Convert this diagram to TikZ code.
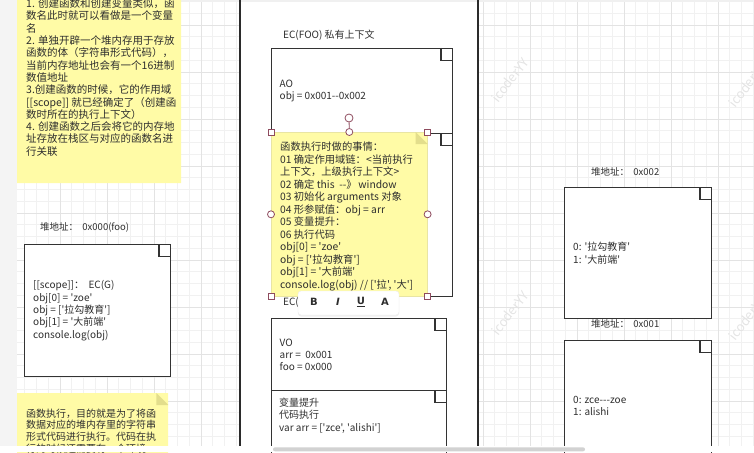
\documentclass[tikz,border=0pt]{standalone}
\usepackage{fontspec}
\newfontfamily\cjk{Noto Sans CJK SC}
\newfontfamily\botones{DejaVu Sans}
\usetikzlibrary{shapes.misc, shadows}

\definecolor{borde}{HTML}{333333}
\definecolor{panel}{HTML}{2B2B2B}
\definecolor{amarillo}{HTML}{FFFBA6}
\definecolor{amarilloosc}{HTML}{E3DE8C}
\definecolor{asa}{HTML}{8E4B5E}
\definecolor{menor}{HTML}{F1F1F1}
\definecolor{mayor}{HTML}{E3E3E3}
\definecolor{marca}{HTML}{E4E4E4}
\definecolor{tinta}{HTML}{2E2E2E}

\newcommand\texto{\cjk\fontsize{10pt}{12.3pt}\selectfont}
\newcommand\textonota{\cjk\fontsize{10.5pt}{12.3pt}\selectfont}
\newcommand\textofoco{\cjk\fontsize{10.3pt}{12.5pt}\selectfont}
\newcommand\textodir{\cjk\fontsize{9.5pt}{12pt}\selectfont}

\begin{document}
\begin{tikzpicture}[x=1pt, y=-1pt,
		every node/.style={font=\texto, text=tinta, inner sep=0pt},
		hoja/.style={chamfered rectangle, chamfered rectangle corners=north east,
			chamfered rectangle xsep=12.5pt, chamfered rectangle ysep=12.5pt,
			draw=borde, line width=1.4pt, fill=white, anchor=north west,
			append after command={([xshift=-12.5pt]\tikzlastnode.north -| \tikzlastnode.east)
				edge[doblez] ([yshift=-12.5pt]\tikzlastnode.north -| \tikzlastnode.east)}},
		doblez/.style={draw=borde, line width=1.4pt, to path={|- (\tikztotarget)}},
		nota/.style={chamfered rectangle, chamfered rectangle corners=north east,
			chamfered rectangle xsep=12pt, chamfered rectangle ysep=12pt,
			fill=amarillo, anchor=north west,
			append after command={([xshift=-12pt]\tikzlastnode.north -| \tikzlastnode.east)
				edge[pliegue] ([yshift=-12pt]\tikzlastnode.north -| \tikzlastnode.east)}},
		pliegue/.style={draw=none, fill=amarilloosc, to path={|- (\tikztotarget) -- cycle}},
		asacuad/.style={rectangle, draw=asa, fill=white, line width=0.8pt, minimum size=6pt},
		asacirc/.style={circle, draw=asa, fill=white, line width=0.8pt, minimum size=7pt},
		barra/.style={rounded corners=3pt, fill=white, draw=gray!15, minimum width=101pt, minimum height=24pt,
			drop shadow={shadow xshift=0pt, shadow yshift=-1.5pt, opacity=0.12}},
		boton/.style={font=\botones\bfseries\fontsize{10pt}{12pt}\selectfont},
		marcaagua/.style={text=marca, font=\cjk\fontsize{13pt}{14pt}\selectfont, rotate=52}
		]
		\clip (0,0) rectangle (754,452);
		
		% ---- FONDO ----
		\foreach \i in {0,...,64} \draw[menor, line width=0.6pt] ({1.25+11.75*\i},0) -- ({1.25+11.75*\i},446);
		\foreach \j in {0,...,38} \draw[menor, line width=0.6pt] (17,{1.5+11.75*\j}) -- (754,{1.5+11.75*\j});
		\foreach \k in {0,...,15} \draw[mayor, line width=0.7pt] ({13+47*\k},0) -- ({13+47*\k},446);
		\foreach \k in {0,...,9} \draw[mayor, line width=0.7pt] (17,{25+47*\k}) -- (754,{25+47*\k});
		\fill[gray!9] (0,0) rectangle (17,446);
		\fill[white] (240,0) rectangle (478,446);
		\fill[gray!12] (17,0) rectangle (754,2.5);
		\draw[panel, line width=2pt] (240,0) -- (240,446);
		\draw[panel, line width=2pt] (478,0) -- (478,446);
		
		\node[marcaagua] (wm1) at (510,80) {icoderYY};
		\node[marcaagua] (wm2) at (747,85) {icoderYY};
		\node[marcaagua] (wm3) at (510,313) {icoderYY};
		\node[marcaagua] (wm4) at (747,318) {icoderYY};
		
		% ---- NOTAS ----
		\node[nota, minimum width=164pt, minimum height=195pt] (notaA) at (17,-12) {};
		\node[anchor=north west, align=left, font=\textonota] (notaAtxt) at (26,-1.5)
			{1. 创建函数和创建变量类似，函\\数名此时就可以看做是一个变量\\名\\2. 单独开辟一个堆内存用于存放\\函数的体（字符串形式代码），\\当前内存地址也会有一个16进制\\数值地址\\3.创建函数的时候，它的作用域\\{}[[scope]] 就已经确定了（创建函\\数时所在的执行上下文）\\4. 创建函数之后会将它的内存地\\址存放在栈区与对应的函数名进\\行关联};
		
		\node[nota, minimum width=151pt, minimum height=80pt] (notaB) at (17,393) {};
		\node[anchor=north west, align=left, font=\cjk\fontsize{10pt}{11.7pt}\selectfont] (notaBtxt) at (26,408.5)
			{函数执行，目的就是为了将函\\数据对应的堆内存里的字符串\\形式代码进行执行。代码在执\\行的时候还需要有一个环境};
		
		% ---- HEAP 0x000 ----
		\node[anchor=west, font=\textodir] (dir0) at (40,227) {堆地址：\ \ 0x000(foo)};
		\node[hoja, minimum width=146pt, minimum height=132pt] (heap0) at (24,244) {};
		\node[anchor=west, align=left] (heap0txt) at ([xshift=9pt]heap0.west)
			{[[scope]]：\ \ EC(G)\\obj[0] = 'zoe'\\obj = ['拉勾教育']\\obj[1] = '大前端'\\console.log(obj)};
		
		% ---- EC(FOO) ----
		\node[anchor=west] (ecfoo) at (283,35) {EC(FOO) 私有上下文};
		\node[hoja, minimum width=181pt, minimum height=85pt] (ao) at (271,48) {};
		\node[anchor=west, align=left] (aotxt) at ([xshift=8.5pt]ao.west) {AO\\obj = 0x001--0x002};
		\node[hoja, minimum width=181pt, minimum height=163pt] (oculta) at (271,133) {};
		
		\node[nota, draw=amarilloosc!80, line width=0.6pt, minimum width=156pt, minimum height=164pt] (foco) at (271,132) {};
		\node[anchor=west, align=left, font=\textofoco] (focotxt) at ([xshift=9pt, yshift=-2pt]foco.west)
			{函数执行时做的事情：\\01 确定作用域链：<当前执行\\上下文，上级执行上下文>\\02 确定 this\ \ --》\,window\\03 初始化 arguments 对象\\04 形参赋值：obj = arr\\05 变量提升：\\06 执行代码\\obj[0] = 'zoe'\\obj = ['拉勾教育']\\obj[1] = '大前端'\\console.log(obj) // ['拉', '大']};
		
		% ---- SELECCION ----
		\node[asacuad] (hNO) at (foco.north west) {};
		\node[asacirc] (hN) at (foco.north) {};
		\node[asacuad] (hNE) at (foco.north -| foco.east) {};
		\node[asacirc] (hO) at (foco.west) {};
		\node[asacirc] (hE) at (foco.east) {};
		\node[asacuad] (hSO) at (foco.south west) {};
		\node[asacirc] (hS) at (foco.south) {};
		\node[asacuad] (hSE) at (foco.south east) {};
		\node[asacirc, minimum size=8pt] (hGiro) at (349,118) {};
		\path [draw=asa, line width=0.8pt] (hGiro) -- (hN);
		
		% ---- EC(G) ----
		\node[anchor=west] (ecg) at (283,302) {EC(G)};
		\node[barra] (barra) at (348.5,303) {};
		\node[boton] (bN) at (314,302) {B};
		\node[boton] (bI) at (338,302) {\itshape I};
		\node[boton] (bU) at (361,302) {\underline{U}};
		\node[boton] (bA) at (385,302) {A};
		
		\node[hoja, minimum width=175pt, minimum height=72pt] (vo) at (271,318) {};
		\node[anchor=west, align=left] (votxt) at ([xshift=8.5pt]vo.west) {VO\\arr = \ 0x001\\foo = 0x000};
		\node[hoja, minimum width=175pt, minimum height=100pt] (ejec) at (271,390) {};
		\node[anchor=north west, align=left] (ejectxt) at (279,398) {变量提升\\代码执行\\var arr = ['zce', 'alishi']};
		
		% ---- HEAP 0x002 / 0x001 ----
		\node[anchor=west, font=\textodir] (dir2) at (591,172) {堆地址：\ \ 0x002};
		\node[hoja, minimum width=147pt, minimum height=131pt] (heap2) at (564,187) {};
		\node[anchor=west, align=left] (heap2txt) at ([xshift=9pt]heap2.west) {0: '拉勾教育'\\1: '大前端'};
		\node[anchor=west, font=\textodir] (dir1) at (591,324) {堆地址：\ \ 0x001};
		\node[hoja, minimum width=147pt, minimum height=131pt] (heap1) at (564,340) {};
		\node[anchor=west, align=left] (heap1txt) at ([xshift=9pt]heap1.west) {0: zce---zoe\\1: alishi};
		
		% ---- BARRA INFERIOR ----
		\fill[white] (0,446) rectangle (754,452);
		\fill[gray!35, rounded corners=2pt] (273,447.3) rectangle (585,451.3);
		
	\end{tikzpicture}
\end{document}
